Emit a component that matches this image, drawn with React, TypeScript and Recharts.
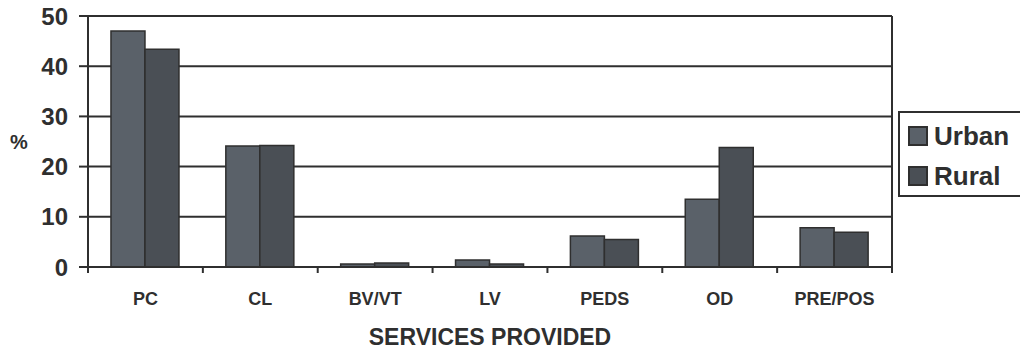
import { BarChart, Bar, XAxis, YAxis, CartesianGrid } from 'recharts';

const categories = ['PC', 'CL', 'BV/VT', 'LV', 'PEDS', 'OD', 'PRE/POS'];
const urban = [47, 24.1, 0.6, 1.4, 6.2, 13.5, 7.8];
const rural = [43.4, 24.2, 0.8, 0.6, 5.5, 23.8, 6.9];
const yTicks = [0, 10, 20, 30, 40, 50];

const FONT = "'Liberation Sans', Arial, sans-serif";
const INK = '#2f2f2f';
const URBAN_FILL = '#5a6169';
const RURAL_FILL = '#4a4f55';

const W = 1020;
const H = 353;
const PLOT_LEFT = 88;
const PLOT_RIGHT = 892;
const BAND = (PLOT_RIGHT - PLOT_LEFT) / categories.length;

const data = categories.map((name, i) => ({ name, urban: urban[i], rural: rural[i] }));

// category label plus tick marks on the band boundaries
function CategoryTick(props: any) {
  const { x, y, payload, index } = props;
  const last = index === categories.length - 1;
  return (
    <g>
      <line x1={x - BAND / 2} x2={x - BAND / 2} y1={y} y2={y + 6} stroke={INK} strokeWidth={2} />
      {last && <line x1={x + BAND / 2} x2={x + BAND / 2} y1={y} y2={y + 6} stroke={INK} strokeWidth={2} />}
      <text x={x} y={y + 38} textAnchor="middle" fontFamily={FONT} fontWeight="bold" fontSize={18} fill={INK}>
        {payload.value}
      </text>
    </g>
  );
}

function LegendBox() {
  const items = [
    { label: 'Urban', color: URBAN_FILL },
    { label: 'Rural', color: RURAL_FILL },
  ];
  return (
    <div style={{ position: 'absolute', left: 898, top: 111, border: `2px solid ${INK}`, width: 140, height: 86, boxSizing: 'border-box', padding: '3px 0 0 8px', background: '#fff' }}>
      {items.map((it) => (
        <div key={it.label} style={{ display: 'flex', alignItems: 'center', height: 40 }}>
          <span style={{ display: 'inline-block', width: 16, height: 16, background: it.color, border: `2px solid ${INK}`, marginRight: 6 }} />
          <span style={{ fontFamily: FONT, fontWeight: 'bold', fontSize: 26, color: INK }}>{it.label}</span>
        </div>
      ))}
    </div>
  );
}

export default function App() {
  return (
    <div style={{ position: 'fixed', left: 0, top: 0, width: W, height: H, background: '#fff', overflow: 'hidden' }}>
      <BarChart width={W} height={H} data={data} margin={{ top: 16, right: 0, bottom: 0, left: 0 }} barCategoryGap="20%" barGap={0}>
        <CartesianGrid vertical={false} stroke={INK} strokeWidth={2} />
        <XAxis
          dataKey="name"
          height={86}
          tickSize={0}
          tickMargin={0}
          tickLine={false}
          axisLine={{ stroke: INK, strokeWidth: 2 }}
          tick={<CategoryTick />}
          interval={0}
          label={{ value: 'SERVICES PROVIDED', position: 'insideBottom', offset: 8, fontFamily: FONT, fontWeight: 'bold', fontSize: 23, fill: INK }}
        />
        <YAxis
          width={PLOT_LEFT}
          domain={[0, 50]}
          ticks={yTicks}
          tickSize={9}
          tickMargin={11}
          tickLine={{ stroke: INK, strokeWidth: 2 }}
          axisLine={{ stroke: INK, strokeWidth: 2 }}
          tick={{ fontFamily: FONT, fontWeight: 'bold', fontSize: 24, fill: INK }}
          label={{ value: '%', position: 'insideLeft', offset: 10, fontFamily: FONT, fontWeight: 'bold', fontSize: 20, fill: INK }}
        />
        <YAxis
          yAxisId="frame"
          orientation="right"
          width={W - PLOT_RIGHT}
          domain={[0, 50]}
          tick={false}
          tickLine={false}
          axisLine={{ stroke: INK, strokeWidth: 2 }}
        />
        <Bar dataKey="urban" name="Urban" fill={URBAN_FILL} stroke={INK} strokeWidth={1.5} isAnimationActive={false} />
        <Bar dataKey="rural" name="Rural" fill={RURAL_FILL} stroke={INK} strokeWidth={1.5} isAnimationActive={false} />
      </BarChart>
      <LegendBox />
    </div>
  );
}
